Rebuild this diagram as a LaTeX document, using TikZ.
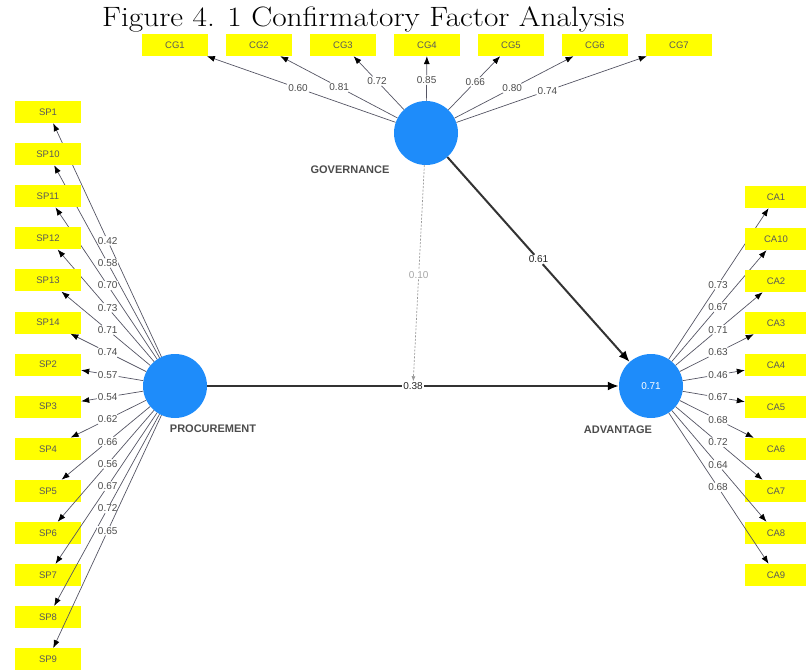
\documentclass[tikz,border=0pt]{standalone}
\usepackage{fontspec}
\setsansfont{Liberation Sans}
\usepackage{graphicx}
\usepackage{xcolor}
\usepackage{tikz}
\usetikzlibrary{calc}
\usetikzlibrary{arrows.meta}

\definecolor{lvblue}{RGB}{30,140,250}
\definecolor{indyellow}{RGB}{255,255,0}
\definecolor{loadgray}{RGB}{85,85,100}

\begin{document}
\begin{tikzpicture}[x=1pt,y=-1pt,
            lv/.style={circle,fill=lvblue,minimum size=64pt,inner sep=0pt,text=white,
            font=\sffamily\fontsize{10}{12}\selectfont},
            lvname/.style={text=black!70,font=\sffamily\bfseries\fontsize{11}{13}\selectfont},
            ind/.style={rectangle,fill=indyellow,minimum width=66pt,minimum height=22pt,
            inner sep=0pt,text=black!65,font=\sffamily\fontsize{9.5}{11}\selectfont},
            lbl/.style={fill=white,inner sep=1pt,text=black!70,
            font=\sffamily\fontsize{10}{12}\selectfont},
            loadline/.style={draw=loadgray,line width=0.7pt},
            loadtip/.style={-{Latex[length=8pt,width=6pt,color=black]}},
            structline/.style={draw=black!80,line width=2pt},
            structtip/.style={-{Latex[length=11pt,width=9pt,color=black]}},
            modline/.style={draw=black!40,line width=0.7pt,dash pattern=on 2pt off 1.5pt},
            modtip/.style={-{Latex[length=5pt,width=4pt]}}]
            \useasboundingbox (0,0) rectangle (806,671);

            \node[anchor=base west,inner sep=0pt,font=\fontsize{28}{32}\selectfont] (title) at (102,27)
            {\scalebox{1.12}[1]{Figure 4. 1 Confirmatory Factor Analysis}};

            \node[lv] (gov) at (426,133) {};
            \node[lv] (proc) at (175,386) {};
            \node[lv] (adv) at (651,386) {0.71};
            \node[lvname, anchor=east] (govname) at (393,170) {GOVERNANCE};
            \node[lvname] (procname) at (213,429) {PROCUREMENT};
            \node[lvname] (advname) at (618,430) {ADVANTAGE};

            % governance indicators
            \foreach \name/\load/\p [count=\i] in {CG1/0.60/0.51, CG2/0.81/0.52, CG3/0.72/0.59,
                CG4/0.85/0.6, CG5/0.66/0.58, CG6/0.80/0.51, CG7/0.74/0.48} {
                \node[ind] (cg\i) at ({175+84*(\i-1)},45) {\name};
                \node[lbl] (lcg\i) at ($(gov)!\p!(cg\i)$) {\load};
                \draw[loadline] (gov) -- (lcg\i);
                \draw[loadline,loadtip] (lcg\i) -- (cg\i);
            }

            % procurement indicators
            \foreach \name/\load [count=\i] in {SP1/0.42, SP10/0.58, SP11/0.70, SP12/0.73,
                SP13/0.71, SP14/0.74, SP2/0.57, SP3/0.54, SP4/0.62, SP5/0.66, SP6/0.56,
                SP7/0.67, SP8/0.72, SP9/0.65} {
                \node[ind] (sp\i) at (48,{112+42.1*(\i-1)}) {\name};
                \node[lbl] (lsp\i) at ($(proc)!0.53!(sp\i)$) {\load};
                \draw[loadline] (proc) -- (lsp\i);
                \draw[loadline,loadtip] (lsp\i) -- (sp\i);
            }

            % advantage indicators
            \foreach \name/\load [count=\i] in {CA1/0.73, CA10/0.67, CA2/0.71, CA3/0.63,
                CA4/0.46, CA5/0.67, CA6/0.68, CA7/0.72, CA8/0.64, CA9/0.68} {
                \node[ind,minimum width=62pt] (ca\i) at (776,{197+42*(\i-1)}) {\name};
                \node[lbl] (lca\i) at ($(adv)!0.536!(ca\i)$) {\load};
                \draw[loadline] (adv) -- (lca\i);
                \draw[loadline,loadtip] (lca\i) -- (ca\i);
            }

            % structural paths
            \node[lbl,text=black!85] (l38) at ($(proc)!0.5!(adv)$) {0.38};
            \node[lbl,text=black!85] (l61) at ($(gov)!0.5!(adv)$) {0.61};
            \node[lbl,text=black!35] (l10) at ($(gov)!0.56!(l38)$) {0.10};
            \draw[structline] (proc) -- (l38);
            \draw[structline,structtip] (l38) -- (adv);
            \draw[structline] (gov) -- (l61);
            \draw[structline,structtip] (l61) -- (adv);
            \draw[modline] (gov) -- (l10);
            \draw[modline,modtip] (l10) -- (l38);
        \end{tikzpicture}
\end{document}
